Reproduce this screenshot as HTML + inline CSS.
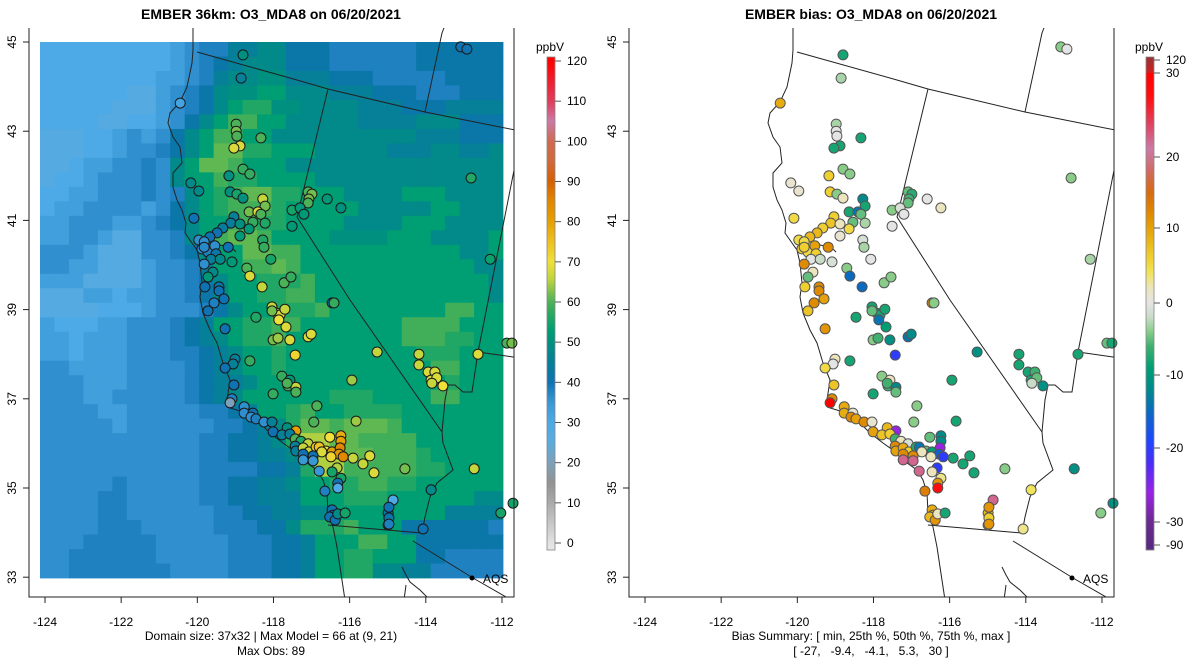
<!DOCTYPE html>
<html><head><meta charset="utf-8"><style>
html,body{margin:0;padding:0;background:#fff;}
svg{display:block;font-family:"Liberation Sans",Arial,sans-serif;}
</style></head><body>
<svg id="root" width="1200" height="672" viewBox="0 0 1200 672" xmlns="http://www.w3.org/2000/svg">
<defs>
<clipPath id="clipL"><rect x="29" y="28" width="485" height="569"/></clipPath>
<clipPath id="clipR"><rect x="629" y="28" width="485" height="569"/></clipPath>
</defs>
<text x="271" y="19" text-anchor="middle" font-size="14" font-weight="bold">EMBER 36km: O3_MDA8 on 06/20/2021</text>
<text x="871" y="19" text-anchor="middle" font-size="14" font-weight="bold">EMBER bias: O3_MDA8 on 06/20/2021</text>
<g id="leftRaster" clip-path="url(#clipL)"></g>
<g id="leftMap" clip-path="url(#clipL)"></g>
<g id="rightMap" clip-path="url(#clipR)"></g>
<g id="leftPts"></g>
<g id="rightPts"></g>
<g id="axes"></g>
<g id="cbars"></g>
<text x="271" y="640" text-anchor="middle" font-size="12">Domain size: 37x32 | Max Model = 66 at (9, 21)</text>
<text x="271" y="655" text-anchor="middle" font-size="12">Max Obs: 89</text>
<text x="871" y="640" text-anchor="middle" font-size="12">Bias Summary: [ min, 25th %, 50th %, 75th %, max ]</text>
<text x="871" y="655" text-anchor="middle" font-size="12" xml:space="preserve">[ -27,   -9.4,   -4.1,   5.3,   30 ]</text>
</svg>
<script>
// ---- data ----
const xTicks = [-124,-122,-120,-118,-116,-114,-112];
const yTicks = [33,35,37,39,41,43,45];
const cbTicks = [0,10,20,30,40,50,60,70,80,90,100,110,120];
const biasTickLabels = [120,30,20,10,0,-10,-20,-30,-90];
const gridRows = [
"B9C1D1E2G2H2F3E6F6","B9C1D1E1F1G1H3F3E6F6","B8C2D1E1G1H2I2G3F3E5F4","B6A2C1D1E1F1H1I2J2H3G3F3E3F3",
"B5A3C1D1E1F1H1J1K2I2H4G3F3G4","B4A2B2C1D1F1H1J1L2J2H5G4H3F3","A3B2C1D1C1D1F1H1J1L2J2H6H4G3F3",
"A3B2C1D2E1F1H1J1M2K2J3H5G3H2G2H1","A2B1C2D2E1D1H1J1M2L1J3H6H5H3H1","A1B2C1D3E1D1H1J2L1K2J4H7H6",
"B2C2D3E1D1E1H1J1K1L1M2K2J3H4J3H4","B1C2D4C1D1F1H1J1K1L1L2K1J5H5J2H3","C2D3C2D1E1F1H1J2L2K2J4H4J3H4",
"C2D2C1A2D2E1H1J1L1M2L1J4I4J3H4J1","D3C1A3D2E1F1H1J2M2L2J4J4J3H2J1","D2C2A3C1D2E1G1J2L2M1L1J5J4J3H2",
"C3A4C1D2E1F1H1J2K3L1J5J4J3H1","A3C2B1C2D2E1F1H1J2K2L2J5J4J3H1","A4B3C1D3E1F1H1J2K3L1J4J4L2J2",
"C1B3C2D3E1F1G1J2K2L2J4J3L4J3","C2B1C3D3E1F1G1H1J1K2L1J5J3L3K2J2","C2B1C3D3E2F1G1H1J2K1J5J4K3J3",
"D2C4D4E1F1G1H1J2K1J5J5L2J3","D3C3D4E1F1G2H1J2J6J5K1J3","D3C2D5E1F1G1H1J2J4K3J4L2J3",
"D4C2D5E2F1G1J2K1L1J2K4J4J3","D5C1D6E2F1G1H1K1M2L1M3L1J4J3","D6D5E2F2G1H1K1N2M1M1L2L2J3J3",
"D6D5E2F2G1G1H1N3M2L3K1J3J2","D6D5E2E2F2G1K1N2L2L3K2J2J2","D5E1D5E2F2G2H1J2K2L2K2J4J2",
"D4E2D5E2F2G1G2J3K3J3J3H2","D4E2D6E2F2G2H2J3J5G2G2","D4E3D5E3F1F1H1K3L1J3F3F3E1",
"D3E5D5E3F2G1J3L2J2F3F3","D2E6D5E3F2G1J2K2J3F2E3E1","D2E7D4E3F2G1J2K2H2G2E5"];
const levelValues = {A:27,B:30,C:33,D:36,E:38,F:42,G:45,H:48,I:50,J:53,K:56,L:59,M:61,N:65,O:68};
const siteLon = [-118.80,-118.85,-120.45,-118.98,-118.98,-118.96,-118.33,-118.88,-119.04,-118.80,-118.62,-119.17,-120.17,-119.96,-119.14,-118.96,-118.80,-118.28,-118.22,-117.09,-116.99,-117.07,-117.09,-116.59,-116.23,-117.51,-117.30,-117.20,-117.51,-120.09,-118.64,-118.41,-118.33,-119.04,-119.12,-118.88,-118.54,-118.22,-119.33,-119.48,-119.67,-118.64,-118.88,-119.96,-119.82,-119.88,-119.72,-119.82,-119.54,-119.19,-119.51,-118.28,-118.25,-119.64,-119.40,-119.09,-118.07,-119.82,-119.59,-119.72,-118.70,-118.62,-117.72,-117.54,-119.80,-119.43,-119.43,-118.30,-119.56,-119.30,-119.72,-118.04,-117.91,-117.83,-117.86,-117.70,-118.04,-118.46,-116.46,-116.41,-117.67,-119.27,-118.01,-117.88,-117.57,-117.09,-117.01,-117.43,-115.28,-118.62,-119.01,-119.06,-119.27,-117.78,-117.57,-117.62,-117.41,-117.41,-117.64,-118.01,-115.94,-119.04,-119.09,-119.14,-116.86,-118.77,-118.77,-118.54,-118.59,-118.46,-118.25,-118.04,-116.94,-115.83,-118.01,-117.64,-117.41,-117.78,-117.57,-117.43,-117.28,-117.43,-117.41,-117.09,-117.22,-117.07,-116.88,-116.80,-116.62,-116.46,-116.73,-116.52,-116.23,-116.23,-116.25,-116.28,-116.17,-116.49,-117.22,-116.96,-117.22,-116.96,-116.33,-116.46,-116.23,-116.31,-116.31,-116.80,-115.91,-115.65,-115.47,-115.36,-116.65,-116.46,-116.44,-116.52,-116.38,-116.31,-116.12,-114.99,-114.99,-113.08,-112.92,-112.81,-112.31,-114.18,-114.18,-113.94,-113.76,-113.86,-113.71,-113.84,-113.55,-112.63,-111.87,-111.74,-114.55,-112.73,-113.86,-114.86,-114.97,-114.97,-114.97,-114.07,-112.03,-111.71];
const siteLat = [44.71,44.19,43.63,43.16,43.00,42.89,42.85,42.67,42.62,42.15,42.04,42.00,41.84,41.66,41.64,41.59,41.50,41.48,41.32,41.64,41.59,41.48,41.39,41.48,41.28,41.23,41.28,41.14,40.87,41.05,41.19,41.19,41.14,41.08,40.94,40.92,40.96,40.94,40.83,40.72,40.63,40.81,40.65,40.56,40.52,40.36,40.29,40.40,40.43,40.40,40.25,40.56,40.40,40.13,40.13,40.07,40.13,40.02,39.84,39.73,39.93,39.75,39.60,39.73,39.51,39.51,39.42,39.51,39.15,39.24,38.97,39.06,38.92,38.88,38.77,39.01,38.97,38.83,39.15,39.15,38.61,38.57,38.32,38.36,38.32,38.39,38.45,37.98,38.05,37.85,37.89,37.78,37.69,37.51,37.42,37.29,37.26,37.15,37.35,37.11,37.42,37.31,37.00,36.91,36.84,36.82,36.68,36.68,36.59,36.55,36.48,36.48,36.48,36.50,36.26,36.35,36.28,36.19,36.21,36.10,36.05,35.94,35.83,35.99,35.90,35.81,35.92,35.92,35.83,35.81,35.81,36.14,36.17,36.05,35.90,35.76,35.70,35.70,35.76,35.72,35.63,35.61,35.45,35.36,35.22,35.11,35.00,35.38,35.67,35.54,35.72,35.34,34.93,34.51,34.39,34.35,34.28,34.42,34.44,34.44,34.17,44.89,44.84,41.95,40.13,38.00,37.76,37.60,37.60,37.42,37.47,37.35,37.29,38.00,38.25,38.25,35.43,35.43,34.96,34.73,34.57,34.33,34.19,34.08,34.44,34.66];
const siteObs = [50,45,32,60,62,60,60,68,68,58,58,50,48,48,50,55,50,66,62,60,62,62,60,52,50,55,52,52,52,40,62,68,60,45,44,50,58,56,44,40,40,52,52,36,36,36,38,37,36,40,42,56,58,45,48,52,55,36,48,52,60,68,60,58,40,42,40,66,38,40,40,66,68,68,70,66,62,56,42,58,68,40,62,64,68,68,68,72,66,58,45,45,40,58,52,60,66,60,60,58,64,40,38,20,60,36,36,40,36,38,36,45,60,64,40,50,80,45,45,60,56,45,45,66,66,66,75,75,70,80,68,70,78,80,85,82,85,72,40,40,35,35,65,55,55,40,30,35,66,66,68,68,38,40,40,40,40,48,55,42,42,40,40,56,54,66,66,68,68,68,68,66,70,68,60,62,62,66,48,30,40,42,38,40,55,55];
const siteBias = [-8,-3,9,-3,0,0,-8,-8,-8,-4,-4,6,1,1,6,-4,2,-12,-8,-5,-7,-6,-5,0,2,-4,-1,0,0,5,-8,-14,-5,6,7,2,-5,-3,6,8,8,5,1,5,5,6,5,6,10,12,6,-1,-3,0,-2,-1,0,12,2,-5,-4,-15,-4,-4,6,12,12,-15,12,10,7,-8,-9,-8,-14,-8,-5,-8,12,-4,-9,11,-4,-6,-11,-14,-12,-20,-11,-8,2,0,5,-4,2,-6,-12,-5,-6,-8,-8,7,12,30,-4,9,9,1,12,10,12,1,-4,-8,10,8,-26,7,6,-6,2,12,10,-1,9,6,-7,-14,-5,-9,2,-5,-12,-12,-26,-16,-20,2,12,12,22,22,-20,2,3,11,28,22,-8,-8,-8,-8,13,9,10,8,11,2,-8,8,7,-4,0,-4,-3,-8,-8,-8,-6,-8,-5,-2,-11,-8,-5,-8,-4,-11,4,22,11,6,11,3,-4,-11];
const biasTickPos = [60,73,157,228,303,375,448,522,545];

// ---- scales ----
const X0 = 45, PXD = 38.08, Y0 = 42, PYD = 44.6;
function xs(lon){ return X0 + (lon + 124) * PXD; }
function ys(lat){ return Y0 + (45 - lat) * PYD; }

const NS = "http://www.w3.org/2000/svg";
function mk(tag, attrs, parent){ const e = document.createElementNS(NS, tag); for (const k in attrs) e.setAttribute(k, attrs[k]); parent.appendChild(e); return e; }
function hex(c){ return [parseInt(c.slice(1,3),16),parseInt(c.slice(3,5),16),parseInt(c.slice(5,7),16)]; }
function interp(stops, v){
  if (v <= stops[0][0]) return stops[0][1];
  for (let i=1;i<stops.length;i++){
    if (v <= stops[i][0]){
      const a=stops[i-1], b=stops[i], t=(v-a[0])/(b[0]-a[0]);
      const ca=hex(a[1]), cb=hex(b[1]);
      return "rgb("+ca.map((x,j)=>Math.round(x+(cb[j]-x)*t)).join(",")+")";
    }
  }
  return stops[stops.length-1][1];
}
const obsStops = [[-2,'#e8e8e8'],[0,'#e2e2e2'],[10,'#aaaaaa'],[15,'#939393'],[20,'#7ea0ba'],[25,'#5aacde'],[30,'#4eaae6'],[35,'#3898d6'],[40,'#0f72b2'],[45,'#067f98'],[50,'#00907f'],[53,'#009e73'],[57,'#2aa860'],[60,'#4cb257'],[63,'#88c44a'],[66,'#c4d63c'],[70,'#efe03a'],[75,'#eec020'],[80,'#e6a000'],[85,'#e08800'],[90,'#d66000'],[95,'#d06a3c'],[100,'#cf6a50'],[105,'#cc79a7'],[110,'#e03c5c'],[120,'#ff0000']];
const biasStops = [[-90,'#5a2a80'],[-30,'#6a2a90'],[-26,'#9a22e6'],[-22,'#4a2cf8'],[-19,'#1e46ff'],[-15,'#0a6ac0'],[-12,'#008a8c'],[-9,'#009e73'],[-6,'#3fb070'],[-4,'#88cc88'],[-2,'#c8dcc8'],[0,'#e4e4e4'],[2,'#ece4bc'],[4,'#f0e45a'],[6,'#f0d030'],[9,'#e8ac10'],[12,'#e08a00'],[15,'#d86a10'],[18,'#d06a60'],[21,'#cc79a7'],[24,'#e04060'],[27,'#ff1010'],[30,'#ff0000'],[31,'#d02020'],[120,'#a03030']];

// ---- raster ----
const rg = document.getElementById('leftRaster');
const nCols = 32, nRows = gridRows.length, rx0 = 40, rx1 = 503, ry0 = 42, ry1 = 578;
const cw = (rx1-rx0)/nCols, ch = (ry1-ry0)/nRows;
gridRows.forEach((row, r) => {
  const cells = [];
  const re = /([A-O])(\d+)/g; let m;
  while ((m = re.exec(row))) for (let k=0;k<+m[2];k++) cells.push(m[1]);
  while (cells.length < nCols) cells.push(cells[cells.length-1]);
  for (let c=0;c<nCols;c++){
    const cell = mk('rect',{x:(rx0+c*cw).toFixed(2),y:(ry0+r*ch).toFixed(2),width:(cw+0.4).toFixed(2),height:(ch+0.4).toFixed(2),fill:interp(obsStops, levelValues[cells[c]])}, rg);
    
    
  }
});

// ---- outlines ----
const outlines = [
 [[193,20],[193,50],[192,63],[187,87],[180,102],[170,113],[168,123],[173,137],[180,147],[182,163],[173,173],[173,187],[177,200],[182,210],[186,223],[185,233],[192,243],[197,250],[200,263],[202,283],[200,297],[203,313],[210,330],[217,343],[223,363],[230,380],[227,400],[230,408],[247,413],[260,423],[270,433],[283,443],[297,453],[307,463],[317,470],[323,480],[327,493],[328,513],[333,527],[337,547],[340,567],[345,600]],
 [[205,238],[213,243],[224,246],[233,249],[236,252]],
 [[197,52],[290,78],[328,89],[425,112],[520,131]],
 [[328,89],[297,217],[350,300],[442,432]],
 [[442,432],[443,443],[453,470],[437,483],[430,497],[425,517],[422,533]],
 [[328,525],[422,533]],
 [[413,541],[473,578],[520,605]],
 [[425,112],[442,33],[447,20]],
 [[520,140],[478,352],[472,392],[463,392],[455,385],[448,385],[445,400],[442,432]],
 [[478,352],[520,358]],
 [[402,567],[406,575],[410,582],[420,590],[430,600]],
 [[406,585],[404,600]]
];
[['leftMap',0],['rightMap',600]].forEach(([id,dx])=>{
  const g = document.getElementById(id);
  outlines.forEach(pl=>{
    const p = mk('polyline',{points:pl.map(q=>(q[0]+dx)+','+q[1]).join(' '),fill:'none',stroke:'#222','stroke-width':'1'}, g);
    
    
  });
});

// ---- sites ----
const lp = document.getElementById('leftPts'), rp = document.getElementById('rightPts');
for (let i=0;i<siteLon.length;i++){
  const cx = xs(siteLon[i]), cy = ys(siteLat[i]);
  const a = mk('circle',{cx:cx.toFixed(1),cy:cy.toFixed(1),r:'5',fill:interp(obsStops, siteObs[i]),stroke:'#1a1a1a','stroke-width':'1'}, lp);
  
  
  const b = mk('circle',{cx:(cx+600).toFixed(1),cy:cy.toFixed(1),r:'5',fill:interp(biasStops, siteBias[i]),stroke:'#555','stroke-width':'1'}, rp);
  
  
}
// AQS legend
[0,600].forEach(dx=>{
  const d = mk('circle',{cx:472+dx,cy:578,r:'2.5',fill:'#000'}, lp);
  
  
  const t = mk('text',{x:483+dx,y:583,'font-size':'12'}, lp);
  t.textContent = 'AQS';
  
  
});

// ---- axes ----
const ax = document.getElementById('axes');
[0,600].forEach(dx=>{
  mk('polyline',{points:`${29+dx},28 ${29+dx},597 ${514+dx},597 ${514+dx},28`,fill:'none',stroke:'#222','stroke-width':'1'}, ax);
  xTicks.forEach(v=>{
    const x = xs(v)+dx;
    mk('line',{x1:x,y1:597,x2:x,y2:603,stroke:'#222'}, ax);
    const t = mk('text',{x:x,y:626,'text-anchor':'middle','font-size':'12'}, ax);
    t.textContent = v;
    
    
  });
  yTicks.forEach(v=>{
    const y = ys(v);
    mk('line',{x1:29+dx,y1:y,x2:23+dx,y2:y,stroke:'#222'}, ax);
    const t = mk('text',{x:0,y:0,'text-anchor':'middle','font-size':'12',transform:`translate(${16+dx},${y}) rotate(-90)`}, ax);
    t.textContent = v;
    
    
  });
});

// ---- colorbars ----
const cb = document.getElementById('cbars');
const cbTop = 57, cbBot = 550;
function cbY(v){ return 543 - v*(543-61)/120; }
for (let y=cbTop; y<cbBot; y++){
  const v = (543 - (y+0.5))*120/(543-61);
  mk('rect',{x:547,y:y,width:8,height:1.2,fill:interp(obsStops, v)}, cb);
}
mk('rect',{x:547,y:cbTop,width:8,height:cbBot-cbTop,fill:'none',stroke:'#888','stroke-width':'0.8'}, cb);
cbTicks.forEach(v=>{
  const y = cbY(v);
  mk('line',{x1:555,y1:y,x2:561,y2:y,stroke:'#555'}, cb);
  const t = mk('text',{x:567,y:y+4,'font-size':'12'}, cb);
  t.textContent = v;
  
  
});
const u1 = mk('text',{x:550,y:51,'text-anchor':'middle','font-size':'12'}, cb); u1.textContent='ppbV';


function biasAtY(y){
  const P = biasTickPos, V = biasTickLabels;
  if (y <= P[0]) return V[0];
  for (let i=1;i<P.length;i++) if (y <= P[i]) return V[i-1] + (V[i]-V[i-1])*(y-P[i-1])/(P[i]-P[i-1]);
  return V[V.length-1];
}
for (let y=cbTop; y<cbBot; y++){
  mk('rect',{x:1146,y:y,width:8,height:1.2,fill:interp(biasStops, biasAtY(y+0.5))}, cb);
}
mk('rect',{x:1146,y:cbTop,width:8,height:cbBot-cbTop,fill:'none',stroke:'#888','stroke-width':'0.8'}, cb);
biasTickLabels.forEach((v,i)=>{
  const y = biasTickPos[i];
  mk('line',{x1:1154,y1:y,x2:1160,y2:y,stroke:'#555'}, cb);
  const t = mk('text',{x:1166,y:y+4,'font-size':'12'}, cb);
  t.textContent = v;
  
  
});
const u2 = mk('text',{x:1149,y:51,'text-anchor':'middle','font-size':'12'}, cb); u2.textContent='ppbV';


</script>
</body></html>
